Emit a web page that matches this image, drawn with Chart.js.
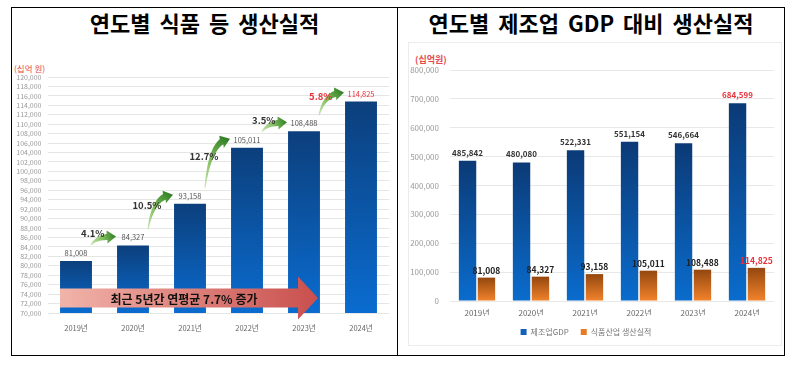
<!DOCTYPE html>
<html><head><meta charset="utf-8">
<script src="https://cdn.jsdelivr.net/npm/chart.js@4.4.1/dist/chart.umd.min.js"></script>
<style>
body{margin:0;background:#fff;width:795px;height:366px;position:relative;overflow:hidden;font-family:"Noto Sans CJK KR",sans-serif;}
.frame{position:absolute;left:11px;top:7px;width:772px;height:347px;border:1px solid #000;}
.divider{position:absolute;left:397px;top:7px;width:1px;height:349px;background:#000;}
.imgbox{position:absolute;left:408px;top:42px;width:372px;height:302px;border:1px solid #ececec;}
.title{position:absolute;top:9px;height:26px;line-height:26px;font-weight:700;font-size:22px;color:#000;text-align:center;white-space:nowrap;word-spacing:4px;}
canvas{position:absolute;top:0;}
.unit{position:absolute;color:#e5484d;white-space:nowrap;}
</style></head>
<body>
<div class="frame"></div>
<div class="divider"></div>
<div class="imgbox"></div>
<div class="title" style="left:12px;width:385px;">연도별 식품 등 생산실적</div>
<div class="title" style="left:398px;width:386px;">연도별 제조업 GDP 대비 생산실적</div>
<div class="unit" style="left:14px;top:62px;font-size:8.5px;">(십억 원)</div>
<div class="unit" style="left:415px;top:53px;font-size:9px;font-weight:700;">(십억원)</div>
<canvas id="left" width="398" height="366" style="left:0;"></canvas>
<canvas id="right" width="397" height="366" style="left:398px;"></canvas>
<script>
// ---- data ----
const years = ['2019년','2020년','2021년','2022년','2023년','2024년'];
const foodOutput = [81008, 84327, 93158, 105011, 108488, 114825];
const mfgGDP = [485842, 480080, 522331, 551154, 546664, 684599];
const growthRates = ['4.1%','10.5%','12.7%','3.5%','5.8%'];
const cagrText = '최근 5년간 연평균 7.7% 증가';
const leftAxis = [70000, 120000, 2000];   // min, max, step
const rightAxis = [0, 800000, 100000];    // min, max, step
const seriesNames = ['제조업GDP', '식품산업 생산실적'];

const FONT = '"Noto Sans CJK KR", sans-serif';
const RED = '#e8323a';
const fmt = v => Number(v).toLocaleString('en-US');

function barGradient(top, bottom){
  return function(ctx){
    const chart = ctx.chart;
    if (!chart.chartArea || ctx.type !== 'data') return bottom;
    const y = chart.scales.y;
    const yt = y.getPixelForValue(ctx.raw);
    const yb = y.getPixelForValue(y.min);
    const g = chart.ctx.createLinearGradient(0, yt, 0, yb);
    g.addColorStop(0, top); g.addColorStop(1, bottom);
    return g;
  };
}

const valueLabels = {
  id: 'valueLabels',
  afterDatasetsDraw(chart, args, opts){
    const c = chart.ctx;
    chart.data.datasets.forEach((ds, di) => {
      const meta = chart.getDatasetMeta(di);
      const st = opts.styles[di];
      meta.data.forEach((bar, i) => {
        c.save();
        c.font = st.font;
        c.fillStyle = (i === ds.data.length - 1) ? RED : st.color;
        c.textAlign = 'center'; c.textBaseline = 'bottom';
        c.fillText(fmt(ds.data[i]), bar.x, bar.y - st.offset);
        c.restore();
      });
    });
  }
};

function drawGreenArrow(c, x0, y0, x1, y1){
  const cx = x0 + (x1 - x0) * 0.2, cy = y1 + (y0 - y1) * 0.15;
  let dx = x1 - cx, dy = y1 - cy; const dl = Math.hypot(dx, dy); dx /= dl; dy /= dl;
  const hl = 9, hw = 6.5;
  const bx = x1 - dx * hl, by = y1 - dy * hl;
  const ccx = x0 + (cx - x0) * 0.9, ccy = y0 + (cy - y0) * 0.9;
  const N = 30, L = [], R = [];
  for (let k = 0; k <= N; k++){
    const t = k / N;
    const px = (1-t)*(1-t)*x0 + 2*(1-t)*t*ccx + t*t*bx;
    const py = (1-t)*(1-t)*y0 + 2*(1-t)*t*ccy + t*t*by;
    let tx = 2*(1-t)*(ccx - x0) + 2*t*(bx - ccx);
    let ty = 2*(1-t)*(ccy - y0) + 2*t*(by - ccy);
    const tl = Math.hypot(tx, ty) || 1; tx /= tl; ty /= tl;
    const w = 0.5 + 2.6 * t;
    L.push([px - ty * w, py + tx * w]);
    R.push([px + ty * w, py - tx * w]);
  }
  const g = c.createLinearGradient(x0, y0, x1, y1);
  g.addColorStop(0, '#c9e4b4'); g.addColorStop(0.5, '#7fbf5c'); g.addColorStop(1, '#2f7d25');
  c.save();
  c.fillStyle = g;
  c.beginPath();
  c.moveTo(L[0][0], L[0][1]);
  L.forEach(p => c.lineTo(p[0], p[1]));
  c.lineTo(bx - dy * hw, by + dx * hw);
  c.lineTo(x1, y1);
  c.lineTo(bx + dy * hw, by - dx * hw);
  for (let k = R.length - 1; k >= 0; k--) c.lineTo(R[k][0], R[k][1]);
  c.closePath();
  c.fill();
  c.restore();
}

const leftDecor = {
  id: 'leftDecor',
  afterDatasetsDraw(chart){
    const c = chart.ctx, x = chart.scales.x, y = chart.scales.y, ca = chart.chartArea;
    const data = chart.data.datasets[0].data;
    // growth arrows
    for (let i = 0; i < data.length - 1; i++){
      const xi = x.getPixelForValue(i), xn = x.getPixelForValue(i + 1);
      const ly0 = y.getPixelForValue(data[i]) - 8;
      const ly1 = y.getPixelForValue(data[i + 1]) - 8;
      const x0 = xi + 15, y0 = ly0 - 8;
      const x1 = xn - 17, y1 = ly1 - 1;
      drawGreenArrow(c, x0, y0, x1, y1);
      const mx = (x0 + x1) / 2, my = (y0 + y1) / 2;
      c.save();
      c.font = 'bold 9.5px ' + FONT;
      c.fillStyle = (i === data.length - 2) ? RED : '#333';
      c.textAlign = 'right'; c.textBaseline = 'middle';
      c.fillText(growthRates[i], mx + 1, my - 7);
      c.restore();
    }
    // big CAGR arrow
    const xl = x.getPixelForValue(0) - 16;
    const xtip = x.getPixelForValue(data.length - 2) + 14;
    const xneck = xtip - 20;
    const yc = ca.bottom - 15;
    const bh = 9.5, hh = 21.5;
    const g = c.createLinearGradient(xl, 0, xtip, 0);
    g.addColorStop(0, '#f1b4aa'); g.addColorStop(1, '#c94f4d');
    c.save();
    c.fillStyle = g;
    c.beginPath();
    c.moveTo(xl, yc - bh); c.lineTo(xneck, yc - bh); c.lineTo(xneck, yc - hh);
    c.lineTo(xtip, yc); c.lineTo(xneck, yc + hh); c.lineTo(xneck, yc + bh);
    c.lineTo(xl, yc + bh); c.closePath(); c.fill();
    c.font = 'bold 12px ' + FONT;
    c.fillStyle = '#111'; c.textAlign = 'center'; c.textBaseline = 'middle';
    c.fillText(cagrText, (xl + xneck) / 2 + 5, yc + 1);
    c.restore();
  }
};

new Chart(document.getElementById('left'), {
  type: 'bar',
  data: {
    labels: years,
    datasets: [{
      label: seriesNames[1],
      data: foodOutput,
      backgroundColor: barGradient('#0c3f7c', '#0a6cd0'),
      borderWidth: 0,
      barPercentage: 0.56,
      categoryPercentage: 1
    }]
  },
  options: {
    responsive: false, animation: false, devicePixelRatio: 1,
    layout: { padding: { left: 0, right: 8.5, top: 77, bottom: 23 } },
    plugins: {
      legend: { display: false }, tooltip: { enabled: false },
      valueLabels: { styles: [{ font: '7.5px ' + FONT, color: '#555', offset: 4 }] }
    },
    scales: {
      x: {
        grid: { display: false, drawTicks: false }, border: { display: false },
        ticks: { padding: 11, font: { size: 7.5, family: FONT }, color: '#666' },
        afterFit(s){ s.height = 30; }
      },
      y: {
        min: leftAxis[0], max: leftAxis[1],
        ticks: { stepSize: leftAxis[2], autoSkip: false, padding: 6, font: { size: 7, family: FONT }, color: '#9a9a9a', callback: v => fmt(v) },
        grid: { color: '#e6e6e6', drawTicks: false }, border: { display: false },
        afterFit(s){ s.width = 47.5; }
      }
    }
  },
  plugins: [valueLabels, leftDecor]
});

const legendColors = ['#1560b8', '#e77a26'];
new Chart(document.getElementById('right'), {
  type: 'bar',
  data: {
    labels: years,
    datasets: [{
      label: seriesNames[0],
      data: mfgGDP,
      backgroundColor: barGradient('#0b3a76', '#0a6ccd'),
      borderWidth: 0, barPercentage: 0.92, categoryPercentage: 0.7
    }, {
      label: seriesNames[1],
      data: foodOutput,
      backgroundColor: barGradient('#94470f', '#f2832c'),
      borderWidth: 0, barPercentage: 0.92, categoryPercentage: 0.7
    }]
  },
  options: {
    responsive: false, animation: false, devicePixelRatio: 1,
    layout: { padding: { left: 0, right: 21, top: 70, bottom: 20 } },
    plugins: {
      tooltip: { enabled: false },
      legend: {
        position: 'bottom',
        labels: {
          boxWidth: 6, boxHeight: 6, padding: 12,
          font: { size: 8, family: FONT }, color: '#777',
          generateLabels(chart){
            return chart.data.datasets.map((ds, i) => ({
              text: ds.label, fillStyle: legendColors[i], strokeStyle: legendColors[i],
              lineWidth: 0, hidden: false, datasetIndex: i, fontColor: '#777'
            }));
          }
        }
      },
      valueLabels: { styles: [
        { font: 'bold 8px ' + FONT, color: '#333', offset: 4 },
        { font: 'bold 8.5px ' + FONT, color: '#222', offset: 3 }
      ] }
    },
    scales: {
      x: {
        grid: { display: false, drawTicks: false }, border: { display: false },
        ticks: { padding: 7, font: { size: 8, family: FONT }, color: '#666' },
        afterFit(s){ s.height = 15; }
      },
      y: {
        min: rightAxis[0], max: rightAxis[1],
        ticks: { stepSize: rightAxis[2], padding: 11, font: { size: 8, family: FONT }, color: '#9a9a9a', callback: v => fmt(v) },
        grid: { color: '#e8e8e8', drawTicks: false }, border: { display: false },
        afterFit(s){ s.width = 52; }
      }
    }
  },
  plugins: [valueLabels]
});
</script>
</body></html>
